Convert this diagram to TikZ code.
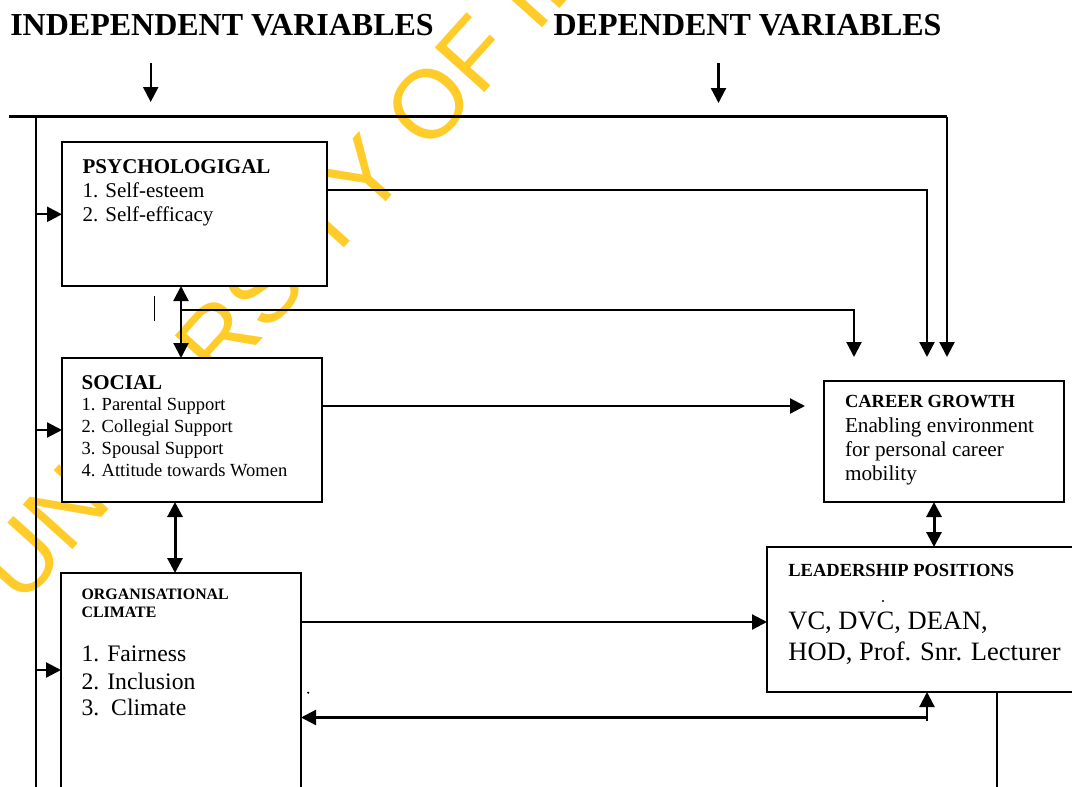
\documentclass[tikz,border=0pt]{standalone}
\usepackage{fontspec}
\setmainfont{Liberation Serif}
\newfontfamily\wmfont{Liberation Sans}
\usetikzlibrary{arrows.meta}
\definecolor{wmyellow}{RGB}{255,204,41}
\tikzset{
  box/.style={draw, line width=2.5pt, fill=white, inner sep=0pt, outer sep=0pt, anchor=north west},
  conn/.style={line width=2.2pt},
  thick conn/.style={line width=3pt},
  tip/.style={-{Triangle[length=15pt,width=15pt]}},
  dtip/.style={{Triangle[length=15pt,width=15pt]}-{Triangle[length=15pt,width=15pt]}},
  txt/.style={anchor=base west, inner sep=0pt, outer sep=0pt},
  hdr/.style={txt, font=\fontsize{32}{38}\selectfont\bfseries},
  wm/.style={anchor=base west, rotate=48, text=wmyellow, inner sep=0pt, outer sep=0pt,
             font=\wmfont\fontsize{97}{100}\selectfont},
}
\begin{document}
\begin{tikzpicture}[x=1pt,y=-1pt]
\useasboundingbox (0,0) rectangle (1072,787);
% watermark (only the letters that show)
\begin{scope}
\clip (0,0) rectangle (1072,787);
\node[wm] (wU) at (21,607) {U};
\node[wm] (wN) at (67.8,555) {N};
\node[wm] (wR) at (219.3,386.8) {R};
\node[wm] (wS) at (266.1,334.8) {S};
\node[wm] (wT) at (327.5,266.6) {T};
\node[wm] (wY) at (367.2,222.6) {Y};
\node[wm] (wO) at (428.5,154.4) {O};
\node[wm] (wF) at (479,98.3) {F};
\node[wm] (wI) at (536.7,34.2) {I};
\node[wm] (wB) at (554.8,14.1) {B};
\end{scope}

% headers
\node[hdr] (indep) at (10.3,35) {INDEPENDENT VARIABLES};
\node[hdr] (dep) at (553.6,35) {DEPENDENT VARIABLES};
\coordinate (ia1) at (150.7,63);  \coordinate (ia2) at (150.7,102);
\coordinate (da1) at (718.5,63);  \coordinate (da2) at (718.5,103);
\draw[conn,tip] (ia1) -- (ia2);
\draw[conn,tip] (da1) -- (da2);

% boxes
\node[box, minimum width=265pt, minimum height=144pt] (psych) at (62,142) {};
\node[box, minimum width=260pt, minimum height=144pt] (social) at (62,358) {};
\node[box, minimum width=240pt, minimum height=235pt] (org) at (61,573) {};
\node[box, minimum width=240pt, minimum height=121pt] (career) at (824,381) {};
\node[box, minimum width=320pt, minimum height=145pt] (lead) at (767,547) {};

% coordinates
\coordinate (tl) at (9,116.5);
\coordinate (tr) at (947,116.5);
\coordinate (lbar) at (36,116.5);
\coordinate (lbarend) at (36,800);
\coordinate (tipA) at (854,357);
\coordinate (tipB) at (927,357);
\coordinate (tipC) at (947,357);
\coordinate (yP) at (36,214.3);
\coordinate (yS) at (36,430);
\coordinate (yO) at (36,670);
\coordinate (yPR) at (0,190);
\coordinate (xA) at (181,0);
\coordinate (yMid) at (181,310);
\coordinate (cornA) at (854,310);
\coordinate (cornB) at (927,190);
\coordinate (ySR) at (0,406);
\coordinate (socTip) at (805,406);
\coordinate (yOR) at (0,622);
\coordinate (xB) at (175,0);
\coordinate (xC) at (934,0);
\coordinate (bl) at (927,717.5);
\coordinate (upStart) at (927,721);
\coordinate (xD) at (997,0);
\coordinate (dEnd) at (997,800);
\coordinate (tick1) at (154.3,296);
\coordinate (tick2) at (154.3,320.7);

% connectors
\draw[conn] (tl) -- (tr);
\draw[conn,tip] (tr) -- (tipC);
\draw[conn] (lbar) -- (lbarend);
\draw[conn,tip] (yP) -- (yP -| psych.west);
\draw[conn,tip] (yS) -- (yS -| social.west);
\draw[conn,tip] (yO) -- (yO -| org.west);
\draw[conn,tip] (psych.east |- yPR) -- (cornB) -- (tipB);
\draw[conn,dtip] (xA |- psych.south) -- (xA |- social.north);
\draw[conn,tip] (yMid) -- (cornA) -- (tipA);
\draw[line width=1.6pt] (tick1) -- (tick2);
\draw[conn,tip] (social.east |- ySR) -- (socTip);
\draw[thick conn,dtip] (xB |- social.south) -- (xB |- org.north);
\draw[conn,tip] (org.east |- yOR) -- (yOR -| lead.west);
\draw[thick conn,dtip] (xC |- career.south) -- (xC |- lead.north);
\draw[conn,tip] (bl) -- (bl -| org.east);
\draw[conn,tip] (upStart) -- (upStart |- lead.south);
\draw[line width=1.7pt] (xD |- lead.south) -- (dEnd);

% texts psych
\node[txt, font=\fontsize{21}{24}\selectfont\bfseries] (p0) at (82.6,173.3) {PSYCHOLOGIGAL};
\node[txt, font=\fontsize{21}{24}\selectfont] (p1) at (82.6,197.3) {1. Self-esteem};
\node[txt, font=\fontsize{21}{24}\selectfont] (p2) at (82.6,221.3) {2. Self-efficacy};
% social
\node[txt, font=\fontsize{21}{24}\selectfont\bfseries] (s0) at (81.7,389.3) {SOCIAL};
\node[txt, font=\fontsize{18.5}{22}\selectfont] (s1) at (81.7,410) {1. Parental Support};
\node[txt, font=\fontsize{18.5}{22}\selectfont] (s2) at (81.7,432.3) {2. Collegial Support};
\node[txt, font=\fontsize{18.5}{22}\selectfont] (s3) at (81.7,454.3) {3. Spousal Support};
\node[txt, font=\fontsize{18.5}{22}\selectfont] (s4) at (81.7,476.7) {4. Attitude towards Women};
% org
\node[txt, font=\fontsize{15.9}{18}\selectfont\bfseries] (o0) at (81.6,599) {ORGANISATIONAL};
\node[txt, font=\fontsize{15.9}{18}\selectfont\bfseries] (o1) at (81.6,617) {CLIMATE};
\node[txt, font=\fontsize{23.7}{27}\selectfont] (o2) at (81.6,661) {1. Fairness};
\node[txt, font=\fontsize{23.7}{27}\selectfont] (o3) at (81.6,689) {2. Inclusion};
\node[txt, font=\fontsize{23.7}{27}\selectfont] (o4) at (81.6,715) {3.\ \ Climate};
\fill (308.2,692.7) circle (1.2pt);
% career
\node[txt, font=\fontsize{18.5}{22}\selectfont\bfseries] (c0) at (845,407) {CAREER GROWTH};
\node[txt, font=\fontsize{21.2}{24}\selectfont] (c1) at (845,432) {Enabling environment};
\node[txt, font=\fontsize{21.2}{24}\selectfont] (c2) at (845,456) {for personal career};
\node[txt, font=\fontsize{21.2}{24}\selectfont] (c3) at (845,480) {mobility};
% leadership
\node[txt, font=\fontsize{18.5}{22}\selectfont\bfseries] (l0) at (788.4,576) {LEADERSHIP POSITIONS};
\fill (883,601) circle (1.1pt);
\node[txt, font=\fontsize{26.5}{32}\selectfont] (l1) at (788.4,629) {VC, DVC, DEAN,};
\node[txt, font=\fontsize{26.5}{32}\selectfont] (l2) at (788.4,660.7) {HOD, Prof. Snr. Lecturer};
\end{tikzpicture}
\end{document}
